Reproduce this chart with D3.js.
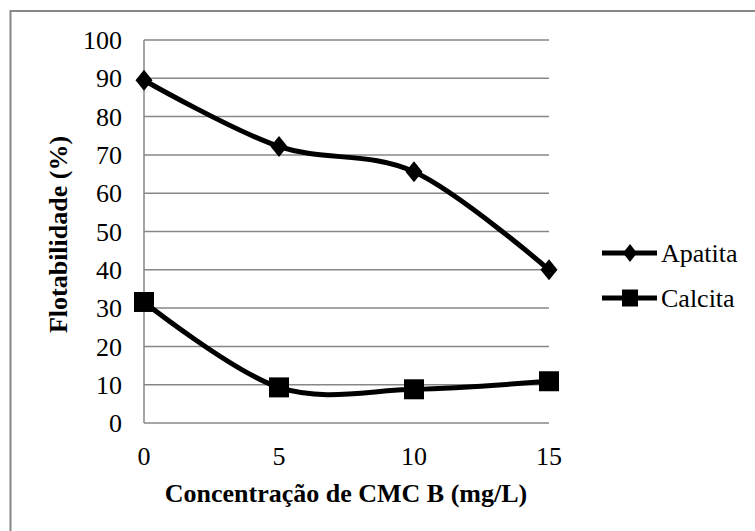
<!DOCTYPE html>
<html>
<head>
<meta charset="utf-8">
<script src="https://cdn.jsdelivr.net/npm/d3@7"></script>
<style>
  body { margin: 0; background: #fff; }
  text { font-family: "Liberation Serif", "Times New Roman", serif; fill: #000; }
  .axisTitle { font-weight: bold; }
</style>
</head>
<body>
<div class="chart"></div>
<script>
// Data
var concentrations = [0, 5, 10, 15];
var apatita = [89.5, 72.2, 65.6, 40.0];
var calcita = [31.6, 9.3, 8.8, 10.9];
var yTicks = [0, 10, 20, 30, 40, 50, 60, 70, 80, 90, 100];
var seriesNames = ["Apatita", "Calcita"];

var svgWidth = 755;
var svgHeight = 531;

var margin = { top: 40, left: 144, right: 206, bottom: 108 };
var width = svgWidth - margin.left - margin.right;
var height = svgHeight - margin.top - margin.bottom;

var svg = d3.select(".chart")
  .append("svg")
  .attr("width", svgWidth)
  .attr("height", svgHeight);

// outer chart border
svg.append("rect")
  .attr("x", 10.5)
  .attr("y", 11)
  .attr("width", 760)
  .attr("height", 540)
  .attr("fill", "none")
  .attr("stroke", "#878787")
  .attr("stroke-width", 2);

var chart = svg.append("g")
  .attr("transform", "translate(" + margin.left + "," + margin.top + ")");

var x = d3.scalePoint().domain(concentrations).range([0, width]);
var y = d3.scaleLinear().domain([0, 100]).range([height, 0]);

// horizontal gridlines
chart.selectAll(".grid")
  .data(yTicks)
  .enter().append("line")
  .attr("x1", 0)
  .attr("x2", width)
  .attr("y1", function(d) { return y(d); })
  .attr("y2", function(d) { return y(d); })
  .attr("stroke", "#878787")
  .attr("stroke-width", 1.5);

// vertical axis line
chart.append("line")
  .attr("x1", 0).attr("x2", 0)
  .attr("y1", 0).attr("y2", height)
  .attr("stroke", "#878787")
  .attr("stroke-width", 1.5);

// y tick labels
chart.selectAll(".ylab")
  .data(yTicks)
  .enter().append("text")
  .attr("x", -22)
  .attr("y", function(d) { return y(d); })
  .attr("dy", "0.35em")
  .attr("text-anchor", "end")
  .style("font-size", "26px")
  .text(function(d) { return d; });

// x tick labels
chart.selectAll(".xlab")
  .data(concentrations)
  .enter().append("text")
  .attr("x", function(d) { return x(d); })
  .attr("y", height + 33)
  .attr("dy", "0.35em")
  .attr("text-anchor", "middle")
  .style("font-size", "26px")
  .text(function(d) { return d; });

// axis titles
chart.append("text")
  .attr("class", "axisTitle")
  .attr("transform", "rotate(-90)")
  .attr("x", -height / 2 - 3)
  .attr("y", -86)
  .attr("dy", "0.35em")
  .attr("text-anchor", "middle")
  .style("font-size", "26px")
  .text("Flotabilidade (%)");

chart.append("text")
  .attr("class", "axisTitle")
  .attr("x", 346 - margin.left)
  .attr("y", height + 70)
  .attr("dy", "0.35em")
  .attr("text-anchor", "middle")
  .style("font-size", "26px")
  .text("Concentração de CMC B (mg/L)");

var line = d3.line()
  .x(function(d, i) { return x(concentrations[i]); })
  .y(function(d) { return y(d); })
  .curve(d3.curveCardinal.tension(0));

// markers: diamond slightly taller than wide, square
function diamond(w, h) {
  return "M0," + (-h / 2) + "L" + (w / 2) + ",0L0," + (h / 2) + "L" + (-w / 2) + ",0Z";
}
function square(w, h) {
  return "M" + (-w / 2) + "," + (-h / 2) + "h" + w + "v" + h + "h" + (-w) + "Z";
}

[apatita, calcita].forEach(function(values, s) {
  chart.append("path")
    .attr("d", line(values))
    .attr("fill", "none")
    .attr("stroke", "#000")
    .attr("stroke-width", 5);

  chart.selectAll(".pt" + s)
    .data(values)
    .enter().append("path")
    .attr("transform", function(d, i) {
      return "translate(" + x(concentrations[i]) + "," + y(d) + ")";
    })
    .attr("d", s === 0 ? diamond(17, 21) : square(20, 20))
    .attr("fill", "#000");
});

// legend
var legend = svg.append("g")
  .attr("transform", "translate(602,253)");

seriesNames.forEach(function(name, i) {
  var g = legend.append("g").attr("transform", "translate(0," + (i * 45) + ")");
  g.append("line")
    .attr("x1", 0).attr("x2", 55)
    .attr("stroke", "#000")
    .attr("stroke-width", 5);
  g.append("path")
    .attr("transform", "translate(28,0)")
    .attr("d", i === 0 ? diamond(14, 18) : square(16, 17))
    .attr("fill", "#000");
  g.append("text")
    .attr("x", 59)
    .attr("dy", "0.35em")
    .style("font-size", "26px")
    .text(name);
});
</script>
</body>
</html>
